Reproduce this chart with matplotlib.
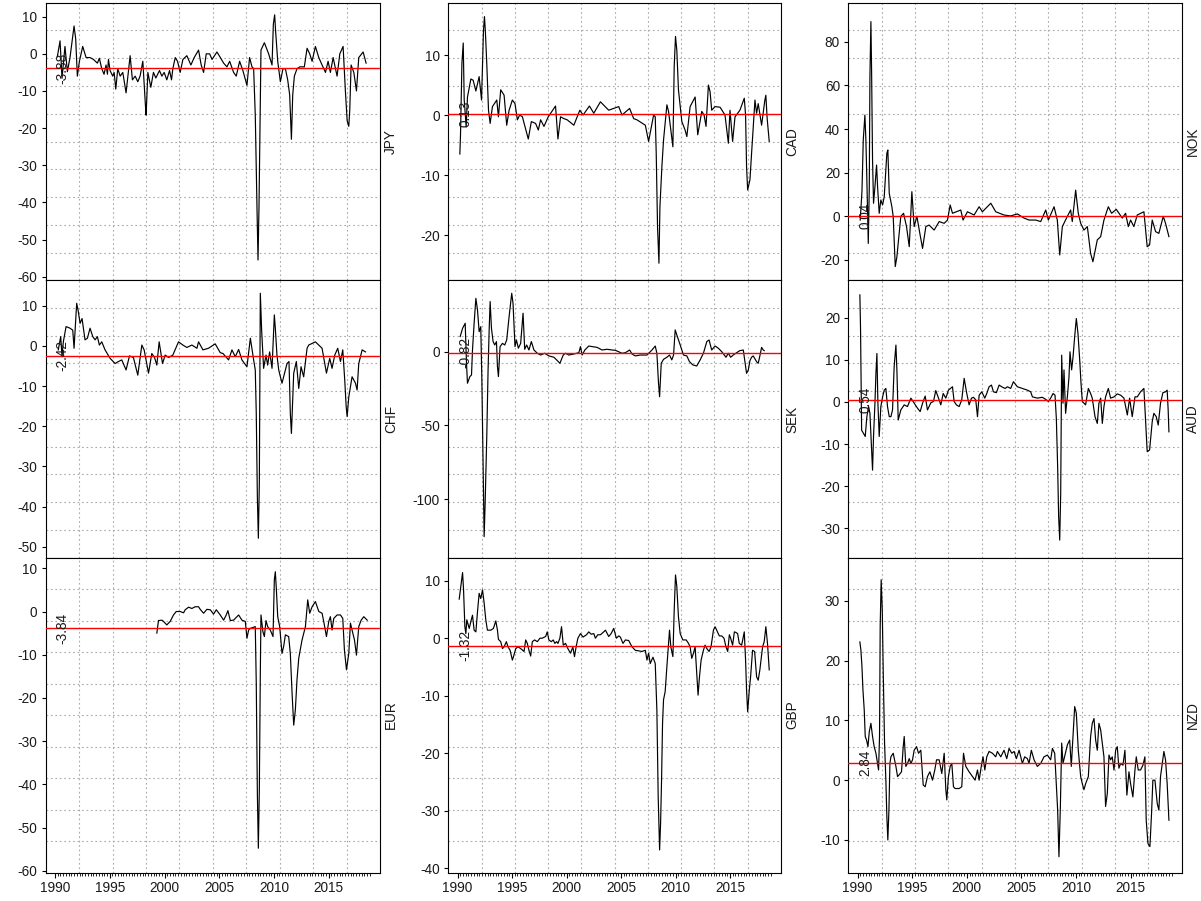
import numpy as np
import matplotlib
matplotlib.use("Agg")
import matplotlib.pyplot as plt

plt.rcParams['font.family'] = ['Liberation Sans', 'DejaVu Sans']
plt.rcParams['axes.unicode_minus'] = False

# ---------------- data (decimal year, value) ----------------
t_jpy = [1990.21,1990.46,1990.64,1990.91,1991.13,1991.37,1991.74,1991.89,1992.04,1992.23,
         1992.53,1992.84,1993.20,1993.51,1993.87,1994.05,1994.27,1994.48,1994.66,1994.79,
         1994.88,1995.03,1995.27,1995.40,1995.55,1995.73,1995.95,1996.19,1996.49,1996.86,
         1997.07,1997.32,1997.56,1997.77,1998.02,1998.26,1998.32,1998.48,1998.75,1998.99,
         1999.21,1999.54,1999.76,1999.97,2000.21,2000.46,2000.64,2000.76,2000.98,2001.19,
         2001.43,2001.68,2002.04,2002.41,2002.71,2003.11,2003.35,2003.57,2003.81,2004.12,
         2004.34,2004.79,2005.10,2005.40,2005.70,2005.95,2006.31,2006.55,2006.86,2007.16,
         2007.53,2007.77,2007.99,2008.14,2008.29,2008.45,2008.54,2008.63,2008.75,2008.81,
         2009.12,2009.51,2009.82,2009.94,2010.06,2010.15,2010.34,2010.58,2010.82,2011.04,
         2011.25,2011.43,2011.59,2011.71,2011.86,2012.10,2012.35,2012.77,2013.02,2013.26,
         2013.48,2013.78,2014.09,2014.39,2014.70,2014.94,2015.15,2015.40,2015.76,2016.01,
         2016.31,2016.52,2016.68,2016.83,2016.92,2017.04,2017.29,2017.53,2017.74,2018.14,
         2018.41]
v_jpy = [-0.8,3.5,-6.6,2.0,-4.8,-1.0,7.5,4.0,-6.0,-2.0,
         2.0,-1.0,-1.0,-1.5,-2.5,-1.2,-4.0,-5.5,-3.0,-5.5,
         -1.5,-4.5,-6.0,-5.0,-9.5,-4.0,-6.0,-5.0,-10.5,-0.5,
         -7.0,-6.0,-7.5,-6.0,-2.0,-14.0,-16.5,-5.0,-9.0,-5.0,
         -6.5,-4.5,-6.0,-5.0,-7.0,-4.5,-7.0,-4.0,-1.0,-2.0,
         -5.0,-1.5,-0.5,-3.0,-1.0,1.0,-3.0,-5.0,0.0,0.0,
         -1.5,0.5,-1.0,-2.5,-3.5,-2.0,-5.0,-6.0,-2.0,-4.5,
         -8.5,-1.0,-3.5,-4.0,-16.5,-42.0,-55.5,-41.0,-13.0,1.0,
         3.0,0.0,-3.0,8.0,10.5,6.0,-2.0,-7.5,-4.0,-4.0,
         -7.0,-11.0,-23.0,-11.0,-6.0,-4.0,-3.5,-3.5,1.5,0.0,
         -2.0,2.0,-1.0,-3.0,-5.0,-2.0,-5.0,-1.0,-6.0,0.0,
         2.0,-10.0,-18.0,-19.5,-15.0,-3.0,-5.0,-10.0,-1.0,0.5,
         -2.5]

t_cad = [1990.21,1990.27,1990.40,1990.52,1990.61,1990.70,1990.79,1990.91,1991.22,1991.43,
         1991.68,1991.98,1992.20,1992.38,1992.47,1992.56,1992.68,1992.84,1992.99,1993.20,
         1993.60,1993.75,1993.96,1994.27,1994.51,1994.73,1995.03,1995.27,1995.49,1995.70,
         1995.95,1996.49,1996.77,1997.16,1997.41,1997.62,1997.93,1998.32,1998.99,1999.21,
         1999.45,1999.76,2000.06,2000.67,2001.22,2001.52,2002.10,2002.50,2003.11,2003.87,
         2004.79,2005.09,2005.79,2006.16,2006.46,2007.23,2007.53,2007.99,2008.14,2008.23,
         2008.35,2008.48,2008.57,2008.75,2008.90,2009.21,2009.36,2009.76,2009.88,2010.00,
         2010.12,2010.27,2010.58,2010.88,2011.04,2011.34,2011.80,2012.04,2012.41,2012.62,
         2012.80,2013.02,2013.17,2013.32,2013.63,2014.09,2014.54,2014.85,2015.00,2015.24,
         2015.46,2015.91,2016.31,2016.43,2016.52,2016.62,2016.83,2016.98,2017.29,2017.44,
         2017.59,2017.90,2018.20,2018.29,2018.41,2018.60]
v_cad = [-6.5,-3.3,8.6,12.0,2.5,0.3,-2.0,3.0,6.0,5.8,
         4.0,6.4,2.5,14.2,16.4,13.6,8.6,0.8,-1.4,1.4,
         2.5,-0.3,4.2,3.3,-1.7,0.8,2.5,1.9,-0.8,0.0,
         -0.3,-4.0,-1.1,-1.4,-2.5,-0.8,-1.9,-0.3,1.5,-4.0,
         -0.3,-0.6,-0.8,-1.7,0.8,0.0,1.5,0.3,2.2,0.8,
         1.4,0.0,1.1,-0.6,-0.8,-1.7,-4.4,0.0,-0.3,-6.4,
         -18.6,-24.7,-15.3,-8.6,-4.2,1.7,0.6,-5.3,8.1,13.1,
         10.8,4.2,-1.1,-2.5,-3.6,1.4,3.0,-3.3,0.6,0.0,
         -1.9,5.0,3.9,0.8,1.4,1.3,0.0,-4.7,0.8,-4.4,
         -0.3,0.8,2.8,0.0,-8.6,-12.5,-10.8,-6.4,2.5,0.3,
         1.9,-1.7,2.5,3.3,-0.6,-4.4]

t_nok = [1990.24,1990.40,1990.52,1990.67,1990.76,1990.85,1990.98,1991.07,1991.13,1991.22,
         1991.28,1991.37,1991.46,1991.59,1991.74,1991.83,1991.98,1992.13,1992.29,1992.44,
         1992.68,1992.77,1992.90,1993.14,1993.26,1993.45,1993.60,1993.96,1994.21,1994.48,
         1994.73,1994.97,1995.18,1995.43,1995.70,1995.95,1996.25,1996.55,1997.01,1997.47,
         1997.93,1998.23,1998.48,1998.69,1999.45,1999.66,2000.06,2000.67,2001.13,2001.43,
         2002.20,2002.65,2003.41,2004.02,2004.63,2005.24,2005.70,2006.31,2006.77,2007.23,
         2007.47,2007.99,2008.29,2008.51,2008.75,2009.21,2009.51,2009.66,2009.97,2010.21,
         2010.43,2010.73,2011.04,2011.34,2011.55,2011.95,2012.26,2012.56,2012.96,2013.26,
         2013.69,2014.24,2014.54,2014.79,2015.00,2015.30,2015.61,2016.22,2016.52,2016.74,
         2016.98,2017.29,2017.59,2017.99,2018.20,2018.51]
v_nok = [-1.7,11.3,35.0,46.4,35.0,16.6,-12.4,12.8,64.0,89.2,
         67.8,25.8,6.0,13.6,23.5,13.6,1.4,7.5,5.2,9.0,
         28.9,30.4,10.5,4.4,0.0,-23.0,-18.5,0.0,1.4,-4.7,
         -13.9,11.3,-4.7,0.0,-7.8,-14.7,-4.7,-4.0,-6.3,-2.4,
         -3.2,-1.7,5.2,1.4,2.9,-1.7,2.1,0.6,4.4,2.1,
         6.0,2.1,0.6,0.2,1.1,-0.8,-1.7,-1.7,-2.4,2.9,
         -1.7,4.4,-1.7,-17.7,-4.7,0.0,2.9,-2.4,12.0,1.4,
         -3.2,-6.3,-4.7,-17.0,-20.8,-10.8,-9.3,-1.7,4.4,1.4,
         3.2,-0.8,1.4,-4.7,-1.7,-4.7,0.6,2.1,-13.9,-13.1,
         -1.7,-7.0,-7.8,0.0,-3.2,-9.3]

t_chf = [1990.30,1990.52,1990.64,1990.76,1991.01,1991.37,1991.62,1991.74,1991.98,1992.13,
         1992.29,1992.47,1992.74,1992.96,1993.20,1993.45,1993.66,1993.87,1994.05,1994.27,
         1994.57,1995.03,1995.49,1995.79,1996.10,1996.49,1996.80,1997.16,1997.56,1997.93,
         1998.14,1998.54,1998.84,1999.09,1999.30,1999.51,1999.82,2000.06,2000.37,2000.76,
         2001.28,2001.68,2002.04,2002.50,2002.96,2003.11,2003.51,2004.02,2004.63,2005.09,
         2005.34,2005.85,2006.16,2006.46,2006.77,2007.07,2007.53,2007.84,2008.14,2008.29,
         2008.38,2008.48,2008.57,2008.66,2008.75,2008.87,2009.05,2009.27,2009.42,2009.60,
         2009.82,2010.03,2010.12,2010.27,2010.43,2010.73,2011.19,2011.37,2011.49,2011.59,
         2011.80,2012.04,2012.26,2012.47,2012.71,2013.02,2013.17,2013.78,2014.39,2014.79,
         2015.09,2015.30,2015.55,2015.82,2016.07,2016.28,2016.46,2016.59,2016.68,2016.83,
         2017.13,2017.44,2017.59,2017.74,2018.05,2018.35]
v_chf = [-1.0,2.3,-2.7,1.0,4.8,4.4,3.9,-0.6,10.6,8.5,
         5.6,6.8,1.5,1.9,4.4,2.3,1.5,2.3,0.2,1.0,
         -1.0,-3.1,-4.4,-3.9,-3.5,-6.0,-2.5,-2.9,-7.3,0.2,
         -1.0,-6.8,-1.9,-2.9,-4.8,1.0,-4.4,-2.3,-2.9,-2.3,
         1.0,0.2,-0.4,0.2,-0.6,1.0,-1.0,-0.6,0.5,-1.7,
         -1.9,-3.5,-1.0,-2.7,-0.9,-3.5,-5.2,1.9,-3.5,-6.0,
         -16.8,-37.6,-47.9,-34.2,13.1,3.9,-5.6,-2.3,-4.8,-1.5,
         -5.6,7.7,4.4,-2.3,-6.0,-9.3,-4.4,-3.9,-16.8,-21.8,
         -6.8,-3.9,-10.6,-5.2,-7.7,-0.6,0.2,1.0,-0.6,-6.8,
         -3.1,-5.6,-2.3,-0.6,-3.9,-1.0,-8.5,-15.1,-17.6,-12.7,
         -7.7,-9.3,-11.0,-4.4,-1.0,-1.5]

t_sek = [1990.24,1990.46,1990.70,1990.82,1990.91,1991.13,1991.28,1991.37,1991.52,1991.68,
         1991.83,1991.98,1992.13,1992.23,1992.35,1992.44,1992.53,1992.68,1992.80,1992.90,
         1992.99,1993.11,1993.26,1993.41,1993.57,1993.66,1993.75,1993.90,1994.12,1994.33,
         1994.51,1994.73,1994.97,1995.09,1995.27,1995.40,1995.58,1995.79,1996.01,1996.16,
         1996.34,1996.55,1996.77,1997.01,1997.32,1997.62,1997.99,1998.38,1998.84,1999.09,
         1999.39,1999.70,1999.91,2000.21,2000.67,2001.13,2001.28,2001.43,2001.68,2002.04,
         2002.35,2002.80,2003.26,2003.72,2004.18,2004.48,2005.09,2005.40,2005.79,2006.01,
         2006.31,2006.77,2007.38,2007.84,2008.14,2008.29,2008.44,2008.54,2008.69,2008.90,
         2009.21,2009.45,2009.66,2009.82,2009.97,2010.12,2010.43,2010.73,2011.04,2011.28,
         2011.59,2011.95,2012.26,2012.56,2012.87,2013.08,2013.32,2013.63,2013.93,2014.24,
         2014.63,2014.85,2015.06,2015.30,2015.61,2015.91,2016.22,2016.37,2016.52,2016.68,
         2016.83,2016.98,2017.13,2017.44,2017.59,2017.74,2017.90,2018.05,2018.14]
v_sek = [10.2,15.8,19.2,-7.9,-21.4,-16.9,-15.8,1.1,19.2,36.1,
         28.2,13.5,16.9,-19.2,-80.1,-125.3,-102.7,-57.6,-12.4,14.7,
         33.9,15.8,6.8,4.5,6.8,-10.2,-16.9,3.4,5.6,4.5,
         7.9,23.7,39.5,32.7,3.4,7.9,2.3,5.6,26.0,1.6,
         4.5,1.1,6.8,1.1,-1.1,-2.3,-1.1,-2.9,-3.8,-5.6,
         -7.9,-2.3,-1.1,-2.3,-1.6,-0.7,3.4,-2.3,1.1,3.8,
         3.4,2.9,1.1,1.6,1.1,0.9,-1.1,-0.7,1.1,-1.6,
         -2.9,-2.3,-2.3,1.1,3.8,-1.1,-21.4,-30.5,-7.9,-5.2,
         -3.8,-2.3,-5.6,-2.3,14.7,11.3,4.5,-2.3,-2.9,-6.8,
         -9.0,-9.7,-5.6,-1.1,6.8,7.9,1.1,3.8,2.3,0.0,
         -3.8,-1.1,-3.8,-2.3,-0.7,0.7,1.1,-6.8,-14.7,-12.4,
         -6.1,-3.8,-2.9,-6.8,-7.9,-2.9,2.9,1.1,0.7]

t_aud = [1990.21,1990.27,1990.37,1990.55,1990.70,1990.85,1991.01,1991.13,1991.28,1991.37,
         1991.46,1991.59,1991.68,1991.77,1991.86,1991.98,1992.13,1992.29,1992.44,1992.59,
         1992.74,1992.90,1993.05,1993.20,1993.35,1993.51,1993.60,1993.72,1993.96,1994.27,
         1994.57,1994.88,1995.18,1995.49,1995.73,1995.95,1996.19,1996.40,1996.71,1996.95,
         1997.16,1997.41,1997.62,1997.84,1998.08,1998.32,1998.69,1998.84,1999.05,1999.30,
         1999.54,1999.76,1999.97,2000.21,2000.43,2000.61,2000.82,2000.98,2001.13,2001.37,
         2001.65,2001.83,2002.04,2002.26,2002.44,2002.71,2002.96,2003.26,2003.51,2003.72,
         2004.02,2004.27,2004.63,2005.09,2005.55,2005.85,2006.01,2006.46,2006.92,2007.23,
         2007.47,2007.68,2007.90,2008.08,2008.20,2008.32,2008.41,2008.51,2008.60,2008.69,
         2008.81,2008.90,2009.05,2009.21,2009.36,2009.45,2009.60,2009.73,2009.88,2010.03,
         2010.18,2010.34,2010.46,2010.58,2010.73,2010.88,2011.13,2011.34,2011.49,2011.74,
         2011.95,2012.10,2012.26,2012.41,2012.56,2012.71,2012.96,2013.17,2013.48,2013.78,
         2014.09,2014.39,2014.70,2014.91,2015.15,2015.40,2015.61,2015.91,2016.22,2016.37,
         2016.52,2016.74,2016.98,2017.13,2017.35,2017.53,2017.74,2017.96,2018.20,2018.35,
         2018.44,2018.51]
v_aud = [25.4,17.5,-6.7,-7.5,-8.2,-3.5,-1.1,-2.7,-11.4,-16.2,
         -8.2,-0.3,6.8,11.5,-0.3,-8.2,-1.1,1.2,2.8,3.2,
         -1.1,-3.5,-3.5,-1.9,8.4,13.5,7.6,-4.3,-1.9,-0.7,
         -1.1,0.9,-0.3,-1.5,-2.3,-0.3,1.4,-1.9,-0.2,0.1,
         2.7,0.9,-0.7,2.0,0.9,2.8,3.6,0.1,-0.7,-1.1,
         0.5,5.6,2.4,-0.7,0.9,1.1,0.5,-3.5,1.6,2.4,
         0.9,2.0,3.6,4.0,2.4,2.2,4.0,3.5,3.2,3.6,
         3.2,4.8,3.6,3.2,2.8,2.4,1.2,0.9,1.1,0.6,
         0.1,0.9,2.0,1.6,-3.9,-15.4,-27.2,-32.8,-21.7,11.1,
         -0.3,7.6,-2.7,1.2,6.0,11.9,7.6,10.7,15.5,19.8,
         16.3,10.0,4.4,0.1,-0.3,-0.7,3.2,2.0,0.9,-3.5,
         -5.1,-0.3,0.9,-5.1,-1.1,1.2,3.2,0.9,1.2,1.9,
         1.6,0.9,-3.1,0.9,-3.5,1.2,1.2,2.4,3.2,-4.3,
         -11.8,-11.4,-4.7,-2.7,-3.5,-5.5,-0.3,2.2,2.4,2.8,
         -1.9,-7.1]

t_eur = [1999.30,1999.45,1999.76,1999.91,2000.21,2000.52,2000.82,2001.07,2001.43,2001.74,
         2001.89,2002.20,2002.50,2002.80,2003.11,2003.26,2003.57,2003.87,2004.18,2004.48,
         2004.73,2005.09,2005.40,2005.64,2005.79,2006.01,2006.31,2006.77,2007.07,2007.38,
         2007.53,2007.68,2007.84,2008.29,2008.38,2008.48,2008.57,2008.66,2008.75,2008.81,
         2008.99,2009.12,2009.27,2009.42,2009.66,2009.91,2010.03,2010.12,2010.21,2010.34,
         2010.52,2010.73,2010.88,2011.04,2011.34,2011.49,2011.65,2011.80,2011.95,2012.10,
         2012.26,2012.56,2012.87,2013.08,2013.26,2013.48,2013.78,2014.09,2014.39,2014.54,
         2014.79,2015.00,2015.15,2015.30,2015.46,2015.76,2016.07,2016.28,2016.43,2016.62,
         2016.83,2016.98,2017.13,2017.35,2017.53,2017.74,2017.96,2018.20,2018.51]
v_eur = [-5.0,-2.1,-2.0,-2.3,-3.1,-2.3,-0.8,0.0,0.0,-0.3,
         0.4,1.0,0.7,1.1,1.1,0.5,-0.4,0.5,0.4,-0.6,
         0.4,-0.8,-2.0,-0.8,0.2,-2.1,-2.0,-0.8,-2.0,-2.3,
         -6.2,-4.3,-3.9,-3.5,-16.6,-42.1,-54.8,-41.3,-14.3,-0.8,
         -4.7,-5.8,-2.1,-3.5,-4.3,-5.8,7.3,9.2,5.4,-1.2,
         -3.5,-9.7,-8.1,-5.4,-5.8,-9.7,-18.9,-26.3,-22.8,-15.8,
         -10.8,-6.6,-3.5,2.7,-0.4,1.1,2.3,0.0,-0.4,-2.3,
         -5.8,-2.3,-1.2,-4.3,-1.6,-0.8,-0.8,-1.6,-8.9,-13.5,
         -9.7,-2.7,-4.3,-6.6,-10.1,-3.5,-2.0,-1.2,-2.0]

t_gbp = [1990.15,1990.30,1990.46,1990.55,1990.67,1990.76,1990.85,1990.98,1991.07,1991.22,
         1991.37,1991.52,1991.68,1991.83,1991.98,1992.13,1992.29,1992.44,1992.59,1992.74,
         1993.05,1993.29,1993.51,1993.66,1993.75,1993.96,1994.12,1994.27,1994.48,1994.63,
         1994.82,1995.03,1995.18,1995.34,1995.55,1995.79,1996.10,1996.25,1996.40,1996.55,
         1996.71,1996.86,1997.07,1997.32,1997.56,1997.77,1998.08,1998.23,1998.38,1998.60,
         1998.78,1998.93,1999.09,1999.21,1999.39,1999.54,1999.70,1999.91,2000.12,2000.37,
         2000.58,2000.73,2000.88,2001.04,2001.28,2001.52,2001.83,2002.04,2002.26,2002.50,
         2002.65,2002.87,2003.11,2003.41,2003.57,2003.87,2004.09,2004.33,2004.57,2004.79,
         2004.94,2005.18,2005.40,2005.70,2006.01,2006.31,2006.62,2006.92,2007.23,2007.38,
         2007.53,2007.68,2007.93,2008.14,2008.29,2008.41,2008.54,2008.63,2008.72,2008.81,
         2008.90,2009.05,2009.21,2009.45,2009.57,2009.76,2009.88,2010.00,2010.12,2010.27,
         2010.43,2010.67,2010.98,2011.19,2011.34,2011.49,2011.65,2011.80,2011.95,2012.07,
         2012.20,2012.35,2012.56,2012.71,2012.87,2013.08,2013.26,2013.48,2013.63,2013.78,
         2014.02,2014.24,2014.45,2014.63,2014.79,2014.94,2015.06,2015.24,2015.40,2015.55,
         2015.70,2015.85,2016.07,2016.31,2016.43,2016.52,2016.62,2016.77,2016.89,2017.07,
         2017.26,2017.44,2017.59,2017.74,2017.99,2018.14,2018.29,2018.44,2018.60]
v_gbp = [6.8,9.0,11.4,8.4,2.0,0.8,3.2,2.3,1.7,2.9,
         4.0,1.4,1.1,4.6,7.8,6.9,8.4,6.1,3.2,1.4,
         1.4,1.7,3.0,1.4,-0.2,-0.6,-1.8,-1.5,-0.6,-1.5,
         -2.1,-3.8,-2.9,-1.8,-1.5,-1.8,-2.3,-0.3,-0.9,-2.1,
         -3.1,-0.6,-0.3,-0.6,0.0,0.0,0.3,1.1,-0.3,-0.6,
         -0.3,-0.9,-0.6,-0.9,0.0,2.0,-1.2,-0.9,-1.8,-2.6,
         -1.5,-3.2,-1.5,0.0,0.8,0.2,0.6,1.1,0.7,0.8,
         0.0,0.6,0.6,1.1,1.4,0.3,0.8,1.7,0.0,0.4,
         0.2,-0.9,-0.3,-0.4,-1.5,-2.1,-2.2,-2.3,-2.1,-3.8,
         -2.6,-4.4,-3.3,-4.4,-12.5,-27.5,-36.8,-32.2,-24.6,-14.8,
         -10.7,-9.3,-4.9,1.4,-1.5,-3.2,4.9,11.0,9.0,3.7,
         0.8,-0.3,-0.3,-0.9,-1.5,-3.5,-2.6,-1.5,-6.1,-9.9,
         -6.7,-3.8,-2.1,-1.2,-1.8,-2.3,-1.5,1.4,2.0,1.4,
         0.4,0.4,0.0,-1.5,-2.3,0.6,0.0,-1.2,1.1,1.0,
         0.8,-0.9,-1.2,1.1,-3.8,-9.0,-12.8,-9.0,-6.7,-2.1,
         -2.3,-6.7,-7.3,-5.5,-1.5,-0.6,2.0,-0.9,-5.5]

t_nzd = [1990.21,1990.30,1990.40,1990.49,1990.61,1990.70,1990.82,1990.95,1991.07,1991.22,
         1991.37,1991.52,1991.68,1991.83,1991.92,1992.01,1992.07,1992.16,1992.26,1992.35,
         1992.47,1992.59,1992.68,1992.77,1992.87,1992.96,1993.05,1993.26,1993.51,1993.66,
         1993.81,1994.02,1994.18,1994.27,1994.42,1994.57,1994.73,1994.88,1995.03,1995.18,
         1995.40,1995.58,1995.79,1996.01,1996.19,1996.40,1996.62,1996.86,1997.07,1997.23,
         1997.47,1997.71,1997.93,1998.08,1998.17,1998.32,1998.48,1998.63,1998.78,1998.93,
         1999.30,1999.54,1999.70,1999.91,2000.21,2000.52,2000.76,2000.98,2001.13,2001.37,
         2001.49,2001.65,2001.83,2002.04,2002.35,2002.65,2002.80,2003.11,2003.41,2003.66,
         2003.87,2004.12,2004.33,2004.54,2004.79,2005.09,2005.30,2005.55,2005.70,2005.91,
         2006.16,2006.46,2006.77,2007.07,2007.38,2007.68,2007.84,2008.05,2008.20,2008.32,
         2008.44,2008.57,2008.69,2008.81,2008.99,2009.21,2009.42,2009.57,2009.73,2009.88,
         2010.03,2010.21,2010.43,2010.58,2010.73,2010.88,2011.13,2011.34,2011.49,2011.65,
         2011.80,2011.95,2012.10,2012.26,2012.56,2012.71,2012.87,2013.02,2013.17,2013.32,
         2013.48,2013.63,2013.78,2013.93,2014.09,2014.30,2014.48,2014.66,2014.85,2015.00,
         2015.21,2015.40,2015.52,2015.70,2015.91,2016.13,2016.31,2016.43,2016.59,2016.77,
         2016.92,2017.04,2017.23,2017.44,2017.59,2017.74,2017.90,2018.05,2018.20,2018.35,
         2018.44,2018.51]
v_nzd = [23.1,21.8,19.0,15.1,11.7,7.3,6.7,5.6,8.1,9.5,
         7.3,5.6,4.5,2.8,1.7,7.3,25.7,33.5,28.4,17.9,
         6.2,0.0,-6.1,-10.0,-5.0,2.8,3.9,4.5,2.3,0.6,
         0.9,1.4,5.6,7.3,2.3,2.8,3.6,2.8,3.4,5.0,
         5.6,4.5,5.0,-0.8,-1.1,0.6,1.4,0.0,1.7,3.4,
         3.4,1.1,4.5,-1.6,-3.3,0.6,2.3,2.8,-1.1,-1.4,
         -1.4,-1.1,4.5,2.3,1.4,0.6,0.0,1.7,0.0,2.8,
         3.9,1.7,3.9,4.8,4.5,3.9,4.8,3.9,5.0,3.6,
         5.3,4.5,4.8,3.6,5.0,2.8,3.9,3.6,2.8,5.0,
         3.4,2.3,2.8,3.9,4.2,3.4,5.3,4.5,-0.6,-5.0,
         -12.8,-4.4,6.2,2.8,4.2,5.9,6.7,2.3,7.3,12.3,
         11.2,5.0,0.6,-0.6,-1.6,-0.6,0.6,7.3,9.5,10.3,
         6.7,5.0,9.5,8.4,3.9,-4.4,-2.2,4.2,3.4,3.9,
         1.7,5.0,5.6,2.0,2.8,2.5,5.0,-2.5,1.4,-0.6,
         -2.8,1.7,3.9,1.7,1.7,2.5,3.9,-6.7,-10.6,-11.1,
         -5.5,0.0,0.0,-3.9,-5.0,0.6,2.8,4.8,3.4,-0.6,
         -3.9,-6.7]

currencies = ["JPY", "CAD", "NOK", "CHF", "SEK", "AUD", "EUR", "GBP", "NZD"]
series_t = [t_jpy, t_cad, t_nok, t_chf, t_sek, t_aud, t_eur, t_gbp, t_nzd]
series_v = [v_jpy, v_cad, v_nok, v_chf, v_sek, v_aud, v_eur, v_gbp, v_nzd]
means = [-3.88, 0.13, 0.04, -2.42, -0.82, 0.54, -3.84, -1.32, 2.84]
yticks = [list(range(-60, 11, 10)), [-20, -10, 0, 10], [-20, 0, 20, 40, 60, 80],
          list(range(-50, 11, 10)), [-100, -50, 0], list(range(-30, 21, 10)),
          list(range(-60, 11, 10)), list(range(-40, 11, 10)), [-10, 0, 10, 20, 30]]
year_ticks = [1990, 1995, 2000, 2005, 2010, 2015]

# ---------------- layout / style ----------------
ylims = [(-60.97, 13.77), (-27.55, 18.72), (-29.3, 97.86),
         (-52.69, 16.32), (-139.4, 48.3), (-36.93, 28.87),
         (-60.46, 12.5), (-40.76, 14.03), (-15.47, 37.22)]
XLIM = (1989.15, 2019.68)
col_left = [0.03805, 0.37327, 0.70633]
col_width = [0.27835, 0.27702, 0.27760]
row_bottom = [0.68890, 0.38124, 0.03141]
row_height = [0.30810, 0.30766, 0.34983]
FS = 9.8
GRID_KW = dict(color='#a9a9a9', lw=0.8, ls=(0, (1.5, 2.5)), zorder=1)

fig = plt.figure(figsize=(12.01, 9.01), dpi=100)

for i, name in enumerate(currencies):
    r, c = divmod(i, 3)
    ax = fig.add_axes([col_left[c], row_bottom[r], col_width[c], row_height[r]])
    n = min(len(series_t[i]), len(series_v[i]))
    ax.plot(series_t[i][:n], series_v[i][:n], color='black', lw=0.85, zorder=3)
    ax.set_xlim(XLIM)
    ax.set_ylim(ylims[i])
    # R-style grid: equal divisions of the plotting region
    x0, x1 = ax.get_xlim()
    y0, y1 = ax.get_ylim()
    for gx in np.linspace(x0, x1, 11)[1:-1]:
        ax.axvline(gx, **GRID_KW)
    for gy in np.linspace(y0, y1, 11)[1:-1]:
        ax.axhline(gy, **GRID_KW)
    ax.axhline(means[i], color='red', lw=1.0, zorder=4)
    ax.text(1990.7, means[i], f"{means[i]:.2f}", rotation=90, ha='center',
            va='center', fontsize=FS, color='#1a1a1a', zorder=5)

    ax.set_yticks(yticks[i])
    ax.set_yticklabels([str(v) for v in yticks[i]])
    ax.tick_params(axis='y', direction='out', length=3, width=0.8, pad=3,
                   labelsize=FS, left=True, right=False, labelcolor='#1a1a1a')
    ax.yaxis.set_label_position('right')
    ax.set_ylabel(name, fontsize=FS, labelpad=3, color='#1a1a1a')
    for sp in ax.spines.values():
        sp.set_linewidth(0.8)
        sp.set_color('black')

    if r == 2:
        ax.set_xticks(year_ticks)
        ax.set_xticklabels([str(y) for y in year_ticks])
        ax.set_xticks(np.arange(1990, 2018.76, 0.25), minor=True)
        ax.tick_params(axis='x', which='major', direction='out', length=3.5,
                       width=0.8, pad=2.5, labelsize=FS, labelcolor='#1a1a1a')
        ax.tick_params(axis='x', which='minor', direction='out', length=2,
                       width=0.6)
    else:
        ax.set_xticks([])

fig.savefig("out.png", dpi=100)
